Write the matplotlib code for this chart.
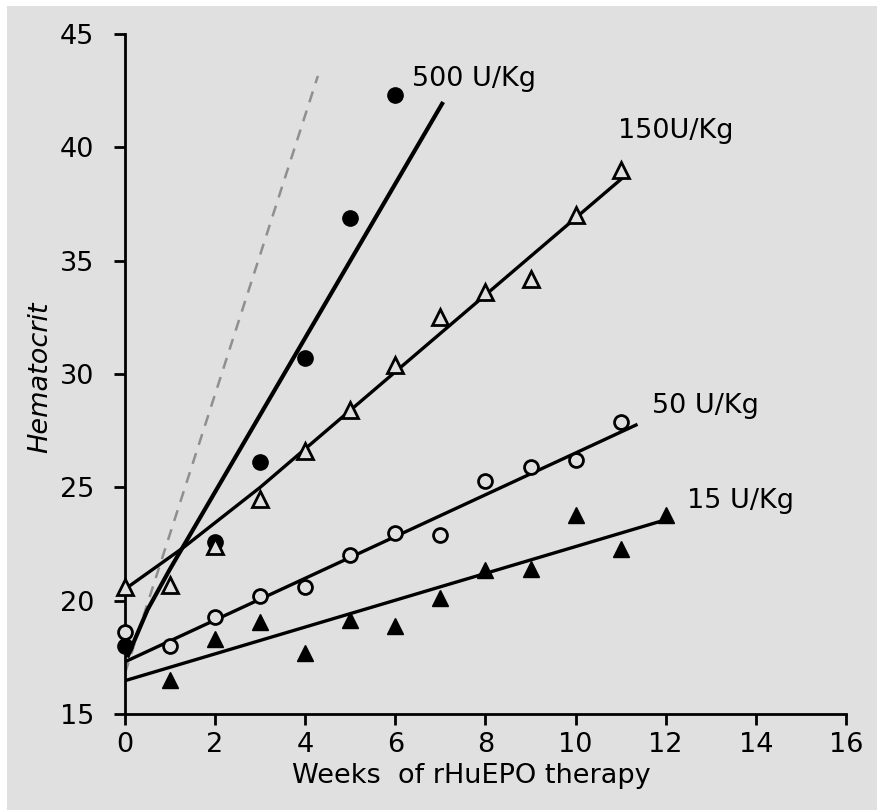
import numpy as np
import matplotlib.pyplot as plt
from matplotlib.patches import Rectangle

# --- data ---
weeks = np.arange(0, 13)

hct_500 = [18.0, None, 22.6, 26.1, 30.7, 36.9, 42.3]
hct_150 = [20.6, 20.7, 22.4, 24.5, 26.6, 28.4, 30.4, 32.5, 33.6, 34.2, 37.0, 39.0]
hct_50 = [18.6, 18.0, 19.3, 20.2, 20.6, 22.0, 23.0, 22.9, 25.3, 25.9, 26.2, 27.9]
hct_15 = [None, 16.5, 18.3, 19.05, 17.7, 19.15, 18.9, 20.1, 21.35, 21.4, 23.8, 22.3, 23.8]

# fitted lines (vertices)
fit500_x = [0.05, 0.5, 1.0, 1.5, 2.0, 7.06]
fit500_y = [17.5, 19.6, 21.4, 23.1, 24.8, 42.0]
fit150_x = [0.1, 1.3, 3.0, 5.0, 11.07]
fit150_y = [20.65, 22.35, 25.0, 28.4, 38.7]
fit50_x = [0.05, 11.34]
fit50_y = [17.35, 27.75]
fit15_x = [0.05, 12.05]
fit15_y = [16.5, 23.6]
dash_x = [0.0, 4.28]
dash_y = [16.8, 43.15]

labels = ["500 U/Kg", "150U/Kg", "50 U/Kg", "15 U/Kg"]
label_pos = [(6.38, 43.0), (10.95, 40.7), (11.7, 28.6), (12.48, 24.4)]


def series(vals):
    x = [w for w, v in zip(weeks, vals) if v is not None]
    y = [v for v in vals if v is not None]
    return x, y


fig = plt.figure(figsize=(8.78, 8.1), dpi=100, facecolor="white")
fig.patches.append(Rectangle((7 / 878, -0.01), 1.02, 1.01 - 6 / 810, transform=fig.transFigure,
                             facecolor="#e0e0e0", edgecolor="none", zorder=-10))
ax = fig.add_axes([125 / 878, 96 / 810, 721 / 878, 680 / 810])
ax.set_facecolor("none")

# fitted lines
ax.plot(dash_x, dash_y, color="#8f8f8f", linestyle=(0, (4.5, 3.5)), linewidth=1.8)
ax.plot(fit500_x, fit500_y, color="black", linewidth=3.0, solid_capstyle="butt")
ax.plot(fit150_x, fit150_y, color="black", linewidth=2.4)
ax.plot(fit50_x, fit50_y, color="black", linewidth=2.4)
ax.plot(fit15_x, fit15_y, color="black", linewidth=2.4)

# data points
x, y = series(hct_500)
ax.plot(x, y, "o", color="black", markersize=11, clip_on=False, zorder=5)
x, y = series(hct_150)
ax.plot(x, y, "^", markerfacecolor="#e0e0e0", markeredgecolor="black",
        markeredgewidth=2, markersize=11, clip_on=False, zorder=5)
x, y = series(hct_50)
ax.plot(x, y, "o", markerfacecolor="#e0e0e0", markeredgecolor="black",
        markeredgewidth=2, markersize=10, clip_on=False, zorder=5)
x, y = series(hct_15)
ax.plot(x, y, "^", color="black", markersize=12, clip_on=False, zorder=5)

for txt, (lx, ly) in zip(labels, label_pos):
    ax.text(lx, ly, txt, fontsize=19.5, ha="left", va="center")

ax.set_xlim(0, 16)
ax.set_ylim(15, 45)
ax.set_xticks(range(0, 17, 2))
ax.set_yticks(range(15, 46, 5))
for s in ["top", "right"]:
    ax.spines[s].set_visible(False)
for s in ["left", "bottom"]:
    ax.spines[s].set_linewidth(2)
ax.tick_params(direction="out", length=8, width=2, labelsize=19.5, pad=5)
ax.tick_params(axis="y", pad=14)

ax.set_xlabel("Weeks  of rHuEPO therapy", fontsize=19.5)
ax.xaxis.set_label_coords(0.48, -0.072)
ax.set_ylabel("Hematocrit", fontsize=19.5, style="italic")
ax.yaxis.set_label_coords(-0.1, 0.495)

fig.savefig("out.png", dpi=100, facecolor=fig.get_facecolor())
